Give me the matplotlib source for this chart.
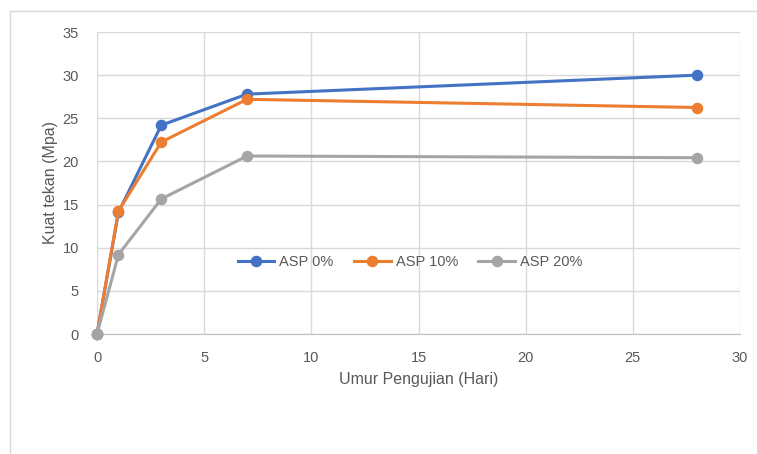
import matplotlib.pyplot as plt
from matplotlib.lines import Line2D

plt.rcParams['font.family'] = ['Liberation Sans', 'DejaVu Sans']

days = [0, 1, 3, 7, 28]
asp_0 = [0, 14.1, 24.2, 27.8, 30.0]
asp_10 = [0, 14.25, 22.25, 27.2, 26.25]
asp_20 = [0, 9.2, 15.65, 20.63, 20.43]
series_names = ['ASP 0%', 'ASP 10%', 'ASP 20%']
colors = ['#4472C4', '#ED7D31', '#A5A5A5']

x_ticks = [0, 5, 10, 15, 20, 25, 30]
y_ticks = [0, 5, 10, 15, 20, 25, 30, 35]

fig = plt.figure(figsize=(7.57, 4.54), dpi=100)
ax = fig.add_axes([97 / 757, 120 / 454, 643 / 757, 302 / 454])

for vals, name, c in zip([asp_0, asp_10, asp_20], series_names, colors):
    ax.plot(days, vals, color=c, lw=2.2, marker='o', markersize=7.3,
            label=name, clip_on=False, zorder=3)

ax.set_xlim(0, 30)
ax.set_ylim(0, 35)
ax.set_xticks(x_ticks)
ax.set_yticks(y_ticks)
ax.grid(True, color='#D9D9D9', lw=1)
ax.set_axisbelow(True)
for side in ['top', 'right', 'left']:
    ax.spines[side].set_visible(False)
ax.spines['bottom'].set_color('#BFBFBF')
ax.tick_params(length=0, colors='#595959', labelsize=10.5)
ax.tick_params(axis='x', pad=12)
ax.tick_params(axis='y', pad=13)

ax.set_xlabel('Umur Pengujian (Hari)', fontsize=11.5, color='#595959', labelpad=5)
ax.set_ylabel('Kuat tekan (Mpa)', fontsize=11.5, color='#595959', labelpad=3)

ax.legend(loc='center', bbox_to_anchor=(0.487, 0.238), ncol=3, frameon=False,
          fontsize=10.5, labelcolor='#595959', handlelength=2.5, columnspacing=1.4,
          handletextpad=0.35)

# chart area border (partly cut off in the original)
fig.add_artist(Line2D([10 / 757, 1], [1 - 11 / 454, 1 - 11 / 454], color='#D9D9D9', lw=1))
fig.add_artist(Line2D([10 / 757, 10 / 757], [0, 1 - 11 / 454], color='#D9D9D9', lw=1))

fig.savefig('out.png', dpi=100)
